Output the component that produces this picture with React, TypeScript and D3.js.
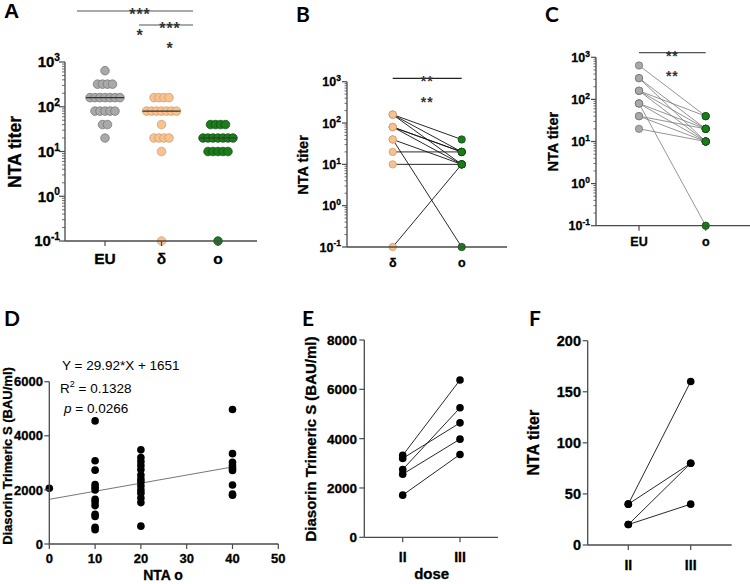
import React from "react";
import * as d3 from "d3";

// ---------- data ----------
// A: NTA titers per variant (each entry is one subject)
const groupsA = ["EU", "δ", "o"];
const euTiters = [640, 320, 320, 320, 320, 160, 160, 160, 160, 160, 160, 160, 80, 80, 80, 80, 80, 40, 40, 20];
const deltaTiters = [160, 160, 160, 160, 80, 80, 80, 80, 80, 80, 80, 40, 20, 20, 20, 20, 10, 0.1];
const omicronTiters = [40, 40, 40, 40, 20, 20, 20, 20, 20, 20, 20, 10, 10, 10, 10, 10, 0.1];
const mediansA = [160, 80, 20];

// B: paired delta -> omicron
const groupsB = ["δ", "o"];
const pairedDelta = [160, 160, 160, 80, 80, 80, 40, 40, 20, 10, 0.1];
const pairedOmicronB = [40, 20, 10, 20, 20, 10, 10, 0.1, 20, 10, 10];

// C: paired EU -> omicron
const groupsC = ["EU", "o"];
const pairedEU = [640, 320, 320, 160, 160, 160, 80, 80, 80, 40, 40, 20];
const pairedOmicronC = [40, 20, 10, 40, 20, 10, 20, 10, 0.1, 20, 10, 10];

// D: NTA omicron vs Diasorin trimeric S
const ntaD = [0,
  10, 10, 10, 10, 10, 10, 10, 10, 10, 10, 10, 10, 10,
  20, 20, 20, 20, 20, 20, 20, 20, 20, 20, 20, 20, 20, 20,
  40, 40, 40, 40, 40, 40, 40, 40, 40];
const diasorinD = [2060,
  4550, 3080, 2730, 2200, 2100, 2000, 1650, 1550, 1420, 1100, 1020, 620, 530,
  3480, 3200, 3050, 2900, 2750, 2550, 2400, 2300, 2150, 2000, 1880, 1700, 1530, 660,
  4970, 3340, 3020, 2900, 2800, 2720, 2180, 1850, 1800];
const regSlope = 29.92;
const regIntercept = 1651;
const regRange = [0, 40];
const yTicksD = [0, 2000, 4000, 6000];
const xTicksD = [0, 10, 20, 30, 40, 50];

// E: Diasorin after dose II and III
const doses = ["II", "III"];
const diasorinII = [3320, 3200, 2750, 2560, 1710];
const diasorinIII = [6380, 4640, 5250, 3980, 3360];
const yTicksE = [0, 2000, 4000, 6000, 8000];

// F: NTA titer after dose II and III
const ntaII = [40, 40, 20, 20];
const ntaIII = [160, 80, 80, 40];
const yTicksF = [0, 50, 100, 150, 200];

// ---------- style ----------
const font = "'Liberation Sans', Arial, sans-serif";
const letterFont = "Lato, 'Liberation Sans', sans-serif";
const axisColor = "#4a4a4a";
const heavy = { stroke: "#000", strokeWidth: 0.3 };
const colGray = { fill: "#a9a9a9", stroke: "#707070" };
const colPeach = { fill: "#f8c290", stroke: "#c99868" };
const colGreen = { fill: "#1c7c1c", stroke: "#0c4a0c" };

function LogYAxis({ scale, x, labelX, fs, majorLen = 6, minorLen = 3 }: any) {
  const decades = [-1, 0, 1, 2, 3];
  const minors: number[] = [];
  [-1, 0, 1, 2].forEach((k) => {
    for (let m = 2; m <= 9; m++) minors.push(m * Math.pow(10, k));
  });
  const [y0, y1] = scale.range();
  return (
    <g>
      <line x1={x} x2={x} y1={y0} y2={y1} stroke={axisColor} strokeWidth={1.3} />
      {minors.map((v, i) => (
        <line key={i} x1={x - minorLen} x2={x} y1={scale(v)} y2={scale(v)} stroke={axisColor} strokeWidth={0.8} />
      ))}
      {decades.map((k) => (
        <g key={k}>
          <line x1={x - majorLen} x2={x} y1={scale(Math.pow(10, k))} y2={scale(Math.pow(10, k))} stroke={axisColor} strokeWidth={1.2} />
          <text x={labelX} y={scale(Math.pow(10, k)) + fs * 0.36} textAnchor="end" fontSize={fs} fontWeight="bold" fontFamily={font} {...heavy}>
            10<tspan dy={-fs * 0.42} fontSize={fs * 0.68}>{k}</tspan>
          </text>
        </g>
      ))}
    </g>
  );
}

function LinYAxis({ scale, ticks, x, labelX, fs, len = 5 }: any) {
  const [y0, y1] = scale.range();
  return (
    <g>
      <line x1={x} x2={x} y1={y0} y2={y1} stroke={axisColor} strokeWidth={1.3} />
      {ticks.map((t: number) => (
        <g key={t}>
          <line x1={x - len} x2={x} y1={scale(t)} y2={scale(t)} stroke={axisColor} strokeWidth={1.2} />
          <text x={labelX} y={scale(t) + fs * 0.36} textAnchor="end" fontSize={fs} fontWeight="bold" fontFamily={font} {...heavy}>{t}</text>
        </g>
      ))}
    </g>
  );
}

function CatXAxis({ scale, y, x1, x2, fs, labelY, len = 5 }: any) {
  return (
    <g>
      <line x1={x1} x2={x2} y1={y} y2={y} stroke={axisColor} strokeWidth={1.3} />
      {scale.domain().map((c: string) => (
        <g key={c}>
          <line x1={scale(c)} x2={scale(c)} y1={y} y2={y + len} stroke={axisColor} strokeWidth={1.2} />
          <text x={scale(c)} y={labelY} textAnchor="middle" fontSize={fs} fontWeight="bold" fontFamily={font} {...heavy}>{c}</text>
        </g>
      ))}
    </g>
  );
}

function YLabel({ x, y, text, fs }: any) {
  return (
    <text transform={`translate(${x},${y}) rotate(-90)`} textAnchor="middle" fontSize={fs} fontWeight="bold" fontFamily={font} {...heavy}>{text}</text>
  );
}

function Stars({ x, y, n, fs = 16 }: any) {
  return (
    <text x={x} y={y + fs * 0.56} textAnchor="middle" fontSize={fs} fontWeight="bold" fontFamily={font} letterSpacing={1} fill="#333">
      {"*".repeat(n)}
    </text>
  );
}

function PanelLetter({ x, y, t, f = letterFont }: any) {
  return <text x={x} y={y} fontSize={21} fontWeight="bold" fontFamily={f}>{t}</text>;
}

// lay out repeated values in a centred horizontal row
function rowLayout(values: number[], spacing: number) {
  const counts = d3.rollup(values, (v) => v.length, (v) => v);
  const seen = new Map<number, number>();
  return values.map((v) => {
    const n = counts.get(v) as number;
    const i = seen.get(v) || 0;
    seen.set(v, i + 1);
    return { v, dx: (i - (n - 1) / 2) * spacing };
  });
}

function PanelA() {
  const y = d3.scaleLog().domain([0.1, 1000]).range([241, 62]);
  const x = d3.scalePoint().domain(groupsA).range([105, 218]);
  const sets = [
    { data: euTiters, col: colGray },
    { data: deltaTiters, col: colPeach },
    { data: omicronTiters, col: colGreen },
  ];
  return (
    <g>
      <PanelLetter x={4} y={18} t="A" f={font} />
      {sets.map((s, gi) =>
        rowLayout(s.data, 5).map((p, i) => (
          <circle key={`${gi}-${i}`} cx={(x(groupsA[gi]) as number) + p.dx} cy={y(p.v)} r={4.3}
            fill={s.col.fill} stroke={s.col.stroke} strokeWidth={0.7} />
        ))
      )}
      {mediansA.map((m, i) => (
        <line key={i} x1={(x(groupsA[i]) as number) - 19} x2={(x(groupsA[i]) as number) + 19}
          y1={y(m)} y2={y(m)} stroke="#333" strokeWidth={1.1} />
      ))}
      <LogYAxis scale={y} x={65} labelX={60} fs={15} />
      <CatXAxis scale={x} y={241} x1={65} x2={257} fs={15.5} labelY={264} />
      <YLabel x={21} y={152} text="NTA titer" fs={17.5} />
      <line x1={77} x2={193} y1={11} y2={11} stroke="#555" strokeWidth={1.2} />
      <Stars x={140} y={11} n={3} />
      <line x1={139} x2={193} y1={25} y2={25} stroke="#555" strokeWidth={1.2} />
      <Stars x={170} y={25} n={3} />
      <Stars x={140} y={32} n={1} />
      <Stars x={170} y={45} n={1} />
    </g>
  );
}

function PanelB() {
  const y = d3.scaleLog().domain([0.1, 1000]).range([247, 81.7]);
  const x = d3.scalePoint().domain(groupsB).range([392.7, 461.7]);
  const xa = x("δ") as number, xb = x("o") as number;
  return (
    <g>
      <PanelLetter x={296} y={22} t="B" />
      {pairedDelta.map((v, i) => (
        <line key={i} x1={xa} x2={xb} y1={y(v)} y2={y(pairedOmicronB[i])} stroke="#111" strokeWidth={0.9} />
      ))}
      {pairedDelta.map((v, i) => (
        <circle key={`a${i}`} cx={xa} cy={y(v)} r={3.7} fill={colPeach.fill} stroke={colPeach.stroke} strokeWidth={0.7} />
      ))}
      {pairedOmicronB.map((v, i) => (
        <circle key={`b${i}`} cx={xb} cy={y(v)} r={3.7} fill={colGreen.fill} stroke={colGreen.stroke} strokeWidth={0.7} />
      ))}
      <LogYAxis scale={y} x={347} labelX={341} fs={12.5} majorLen={5} minorLen={2.5} />
      <CatXAxis scale={x} y={247} x1={347} x2={507} fs={12.5} labelY={267} len={0} />
      <YLabel x={308} y={165} text="NTA titer" fs={14.5} />
      <line x1={xa} x2={xb} y1={78.3} y2={78.3} stroke="#222" strokeWidth={1.2} />
      <Stars x={(xa + xb) / 2} y={78.3} n={2} fs={14} />
      <Stars x={(xa + xb) / 2} y={99} n={2} fs={14} />
    </g>
  );
}

function PanelC() {
  const y = d3.scaleLog().domain([0.1, 1000]).range([225.7, 57.3]);
  const x = d3.scalePoint().domain(groupsC).range([639, 705.7]);
  const xa = x("EU") as number, xb = x("o") as number;
  return (
    <g>
      <PanelLetter x={545} y={22} t="C" />
      {pairedEU.map((v, i) => (
        <line key={i} x1={xa} x2={xb} y1={y(v)} y2={y(pairedOmicronC[i])} stroke="#7a7a7a" strokeWidth={0.8} />
      ))}
      {pairedEU.map((v, i) => (
        <circle key={`a${i}`} cx={xa} cy={y(v)} r={3.7} fill={colGray.fill} stroke={colGray.stroke} strokeWidth={0.7} />
      ))}
      {pairedOmicronC.map((v, i) => (
        <circle key={`b${i}`} cx={xb} cy={y(v)} r={3.7} fill={colGreen.fill} stroke={colGreen.stroke} strokeWidth={0.7} />
      ))}
      <LogYAxis scale={y} x={596} labelX={590} fs={12.5} majorLen={5} minorLen={2.5} />
      <CatXAxis scale={x} y={225.7} x1={596} x2={750} fs={12.5} labelY={246} />
      <YLabel x={558} y={141.7} text="NTA titer" fs={14.5} />
      <line x1={xa} x2={xb} y1={52.7} y2={52.7} stroke="#555" strokeWidth={1.2} />
      <Stars x={(xa + xb) / 2} y={52.7} n={2} fs={14} />
      <Stars x={(xa + xb) / 2} y={73} n={2} fs={14} />
    </g>
  );
}

function PanelD() {
  const x = d3.scaleLinear().domain([0, 50]).range([49.3, 278.3]);
  const y = d3.scaleLinear().domain([0, 6000]).range([544, 381.7]);
  return (
    <g>
      <PanelLetter x={4} y={326} t="D" />
      <line x1={x(regRange[0])} x2={x(regRange[1])}
        y1={y(regIntercept + regSlope * regRange[0])} y2={y(regIntercept + regSlope * regRange[1])}
        stroke="#666" strokeWidth={0.9} />
      {ntaD.map((v, i) => (
        <circle key={i} cx={x(v)} cy={y(diasorinD[i])} r={3.8} fill="#000" />
      ))}
      <LinYAxis scale={y} ticks={yTicksD} x={49.3} labelX={43} fs={13} />
      <line x1={49.3} x2={278.3} y1={544} y2={544} stroke={axisColor} strokeWidth={1.3} />
      {xTicksD.map((t) => (
        <g key={t}>
          <line x1={x(t)} x2={x(t)} y1={544} y2={549} stroke={axisColor} strokeWidth={1.2} />
          <text x={x(t)} y={563} textAnchor="middle" fontSize={13} fontWeight="bold" fontFamily={font} {...heavy}>{t}</text>
        </g>
      ))}
      <text x={163} y={580} textAnchor="middle" fontSize={14} fontWeight="bold" fontFamily={font} {...heavy}>NTA o</text>
      <YLabel x={12} y={456} text="Diasorin Trimeric S (BAU/ml)" fs={13} />
      <text x={62} y={370} fontSize={13.5} fontFamily={font}>Y = 29.92*X + 1651</text>
      <text x={60} y={393} fontSize={13.5} fontFamily={font}>R<tspan dy={-6} fontSize={9}>2</tspan><tspan dy={6}> = 0.1328</tspan></text>
      <text x={64} y={413} fontSize={13.5} fontFamily={font}><tspan fontStyle="italic">p</tspan> = 0.0266</text>
    </g>
  );
}

function PanelE() {
  const x = d3.scalePoint().domain(doses).range([402.7, 460]);
  const y = d3.scaleLinear().domain([0, 8000]).range([537.3, 340]);
  const xa = x("II") as number, xb = x("III") as number;
  return (
    <g>
      <PanelLetter x={302} y={326} t="E" />
      {diasorinII.map((v, i) => (
        <line key={i} x1={xa} x2={xb} y1={y(v)} y2={y(diasorinIII[i])} stroke="#111" strokeWidth={0.9} />
      ))}
      {diasorinII.map((v, i) => <circle key={`a${i}`} cx={xa} cy={y(v)} r={3.8} fill="#000" />)}
      {diasorinIII.map((v, i) => <circle key={`b${i}`} cx={xb} cy={y(v)} r={3.8} fill="#000" />)}
      <LinYAxis scale={y} ticks={yTicksE} x={364.3} labelX={357} fs={13.5} />
      <CatXAxis scale={x} y={537.3} x1={364.3} x2={498} fs={14} labelY={562} />
      <text x={431.7} y={579} textAnchor="middle" fontSize={15} fontWeight="bold" fontFamily={font} {...heavy}>dose</text>
      <YLabel x={316} y={439} text="Diasorin Trimeric S (BAU/ml)" fs={15} />
    </g>
  );
}

function PanelF() {
  const x = d3.scalePoint().domain(doses).range([628.3, 690.7]);
  const y = d3.scaleLinear().domain([0, 200]).range([545, 340.7]);
  const xa = x("II") as number, xb = x("III") as number;
  return (
    <g>
      <PanelLetter x={529} y={326} t="F" />
      {ntaII.map((v, i) => (
        <line key={i} x1={xa} x2={xb} y1={y(v)} y2={y(ntaIII[i])} stroke="#111" strokeWidth={0.9} />
      ))}
      {ntaII.map((v, i) => <circle key={`a${i}`} cx={xa} cy={y(v)} r={3.8} fill="#000" />)}
      {ntaIII.map((v, i) => <circle key={`b${i}`} cx={xb} cy={y(v)} r={3.8} fill="#000" />)}
      <LinYAxis scale={y} ticks={yTicksF} x={587.7} labelX={581} fs={14.5} />
      <CatXAxis scale={x} y={545} x1={587.7} x2={731.7} fs={14} labelY={570} />
      <YLabel x={539} y={442.7} text="NTA titer" fs={16} />
    </g>
  );
}

export default function App() {
  return (
    <svg width={750} height={584} style={{ position: "absolute", left: 0, top: 0, background: "#fff" }}>
      <rect width={750} height={584} fill="#fff" />
      <PanelA />
      <PanelB />
      <PanelC />
      <PanelD />
      <PanelE />
      <PanelF />
    </svg>
  );
}
